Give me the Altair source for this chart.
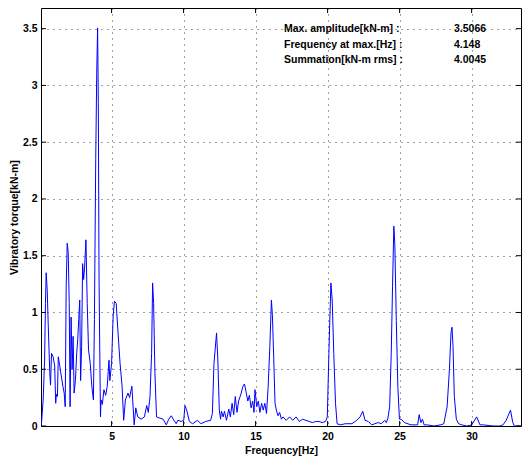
import altair as alt
import pandas as pd

# ---- data ----
freq = [0.12, 0.25, 0.35, 0.41, 0.46, 0.53, 0.60, 0.66, 0.71, 0.76, 0.83, 0.94, 1.05, 1.12, 1.17,
        1.24, 1.30, 1.40, 1.51, 1.62, 1.71, 1.78, 1.85, 1.92, 1.99, 2.06, 2.12, 2.19, 2.26, 2.33,
        2.40, 2.49, 2.58, 2.65, 2.72, 2.79, 2.85, 2.92, 2.99, 3.06, 3.13, 3.22, 3.31, 3.40, 3.52,
        3.63, 3.74, 3.81, 3.90, 3.97, 4.03, 4.08, 4.13, 4.18, 4.23, 4.27, 4.36, 4.47, 4.59, 4.70,
        4.82, 4.88, 5.00, 5.11, 5.20, 5.32, 5.45, 5.59, 5.73, 5.84, 5.96, 6.14, 6.25, 6.41, 6.57,
        6.68, 6.82, 7.05, 7.28, 7.44, 7.55, 7.67, 7.78, 7.85, 7.92, 8.01, 8.12, 8.35, 8.58, 8.80,
        8.97, 9.15, 9.33, 9.49, 9.60, 9.83, 10.01, 10.10, 10.24, 10.40, 10.63, 10.97, 11.20, 11.54,
        11.88, 12.00, 12.11, 12.29, 12.38, 12.48, 12.57, 12.63, 12.75, 12.84, 12.98, 13.14, 13.25,
        13.37, 13.48, 13.59, 13.71, 13.82, 13.98, 14.12, 14.23, 14.34, 14.46, 14.57, 14.69, 14.80,
        14.89, 14.96, 15.08, 15.19, 15.30, 15.42, 15.53, 15.64, 15.76, 15.87, 15.99, 16.10, 16.17,
        16.26, 16.35, 16.44, 16.56, 16.67, 16.79, 16.90, 17.13, 17.36, 17.58, 17.81, 18.04, 18.27,
        18.50, 18.72, 18.95, 19.18, 19.40, 19.64, 19.86, 19.98, 20.09, 20.23, 20.32, 20.43, 20.55,
        20.66, 20.89, 21.23, 21.69, 22.03, 22.26, 22.44, 22.60, 22.83, 23.06, 23.28, 23.51, 23.74,
        23.97, 24.08, 24.19, 24.31, 24.42, 24.51, 24.60, 24.67, 24.77, 24.88, 24.99, 25.11, 25.34,
        25.79, 26.25, 26.36, 26.48, 26.59, 26.70, 26.93, 27.39, 27.84, 28.07, 28.30, 28.46, 28.57,
        28.64, 28.71, 28.80, 28.94, 29.10, 29.32, 29.67, 30.01, 30.35, 30.58, 30.81, 31.49, 31.95,
        32.18, 32.40, 32.70, 32.86, 32.97, 33.40]
torque = [0.00, 0.23, 0.58, 1.08, 1.35, 1.20, 0.90, 0.66, 0.47, 0.36, 0.64, 0.61, 0.53, 0.20, 0.28,
          0.26, 0.61, 0.53, 0.44, 0.35, 0.29, 0.17, 1.23, 1.61, 1.53, 1.08, 0.17, 0.96, 0.50, 0.79,
          0.29, 0.40, 0.64, 0.76, 0.94, 1.11, 0.40, 0.70, 1.43, 1.29, 1.40, 1.64, 1.08, 0.67, 0.55,
          0.35, 0.23, 0.94, 2.35, 3.10, 3.5066, 2.85, 1.30, 0.68, 0.08, 0.23, 0.19, 0.32, 0.27, 0.35,
          0.58, 0.40, 0.55, 0.97, 1.10, 1.08, 0.82, 0.55, 0.35, 0.05, 0.23, 0.29, 0.25, 0.35, 0.01,
          0.16, 0.08, 0.06, 0.08, 0.18, 0.12, 0.26, 0.64, 1.26, 1.08, 0.47, 0.08, 0.07, 0.06, 0.01,
          0.06, 0.09, 0.05, 0.02, 0.05, 0.04, 0.05, 0.18, 0.13, 0.04, 0.02, 0.05, 0.02, 0.04,
          0.05, 0.11, 0.55, 0.82, 0.58, 0.14, 0.06, 0.13, 0.08, 0.13, 0.05, 0.15, 0.08,
          0.20, 0.10, 0.26, 0.12, 0.22, 0.28, 0.35, 0.37, 0.30, 0.22, 0.27, 0.16, 0.22,
          0.12, 0.32, 0.17, 0.22, 0.12, 0.20, 0.14, 0.20, 0.11, 0.34, 0.70, 1.11, 0.97,
          0.60, 0.20, 0.14, 0.09, 0.12, 0.06, 0.08, 0.05, 0.08, 0.05, 0.08, 0.04, 0.06,
          0.05, 0.04, 0.03, 0.04, 0.04, 0.03, 0.04, 0.08, 0.64, 1.26, 1.11, 0.64, 0.20,
          0.02, 0.01, 0.02, 0.02, 0.05, 0.08, 0.13, 0.05, 0.04, 0.01, 0.02, 0.03, 0.02,
          0.05, 0.03, 0.07, 0.17, 0.64, 1.23, 1.76, 1.60, 0.93, 0.34, 0.06, 0.06, 0.03,
          0.01, 0.01, 0.10, 0.03, 0.06, 0.01, 0.01, 0.00, 0.01, 0.02, 0.17, 0.50, 0.82,
          0.87, 0.70, 0.26, 0.06, 0.02, 0.01, 0.00, 0.01, 0.08, 0.01, 0.01, 0.00, 0.00,
          0.01, 0.05, 0.14, 0.03, 0.00, 0.00]

x_ticks = [5, 10, 15, 20, 25, 30]
y_ticks = [0, 0.5, 1, 1.5, 2, 2.5, 3, 3.5]
info_labels = ["Max. amplitude[kN-m] :", "Frequency at max.[Hz] :", "Summation[kN-m rms] :"]
info_values = ["3.5066", "4.148", "4.0045"]

W, H = 480, 418
FONT = "Liberation Sans"
TL = 5  # inward tick length

df = pd.DataFrame({"f": freq, "v": torque})
xs = alt.Scale(domain=[0.1, 33.43], nice=False, zero=False)
ys = alt.Scale(domain=[0, 3.682], nice=False)

grid_kw = dict(grid=True, gridColor="#000000", gridDash=[1, 5], gridOpacity=0.75, gridWidth=1,
               ticks=False, domain=False, labelFont=FONT, labelFontSize=10.5,
               labelFontWeight="bold", labelColor="#000000", titleFont=FONT,
               titleFontSize=10.5, titleFontWeight="bold", titleColor="#000000")

x_axis = alt.Axis(values=x_ticks, title="Frequency[Hz]", labelPadding=5,
                  titleBaseline="middle", titleY=24, **grid_kw)
y_axis = alt.Axis(values=y_ticks, format=".1~f", title="Vibratory torque[kN-m]",
                  labelPadding=4, titleBaseline="middle", titleX=-27, **grid_kw)


def X():
    return alt.X("f:Q", scale=xs, axis=x_axis)


def Y():
    return alt.Y("v:Q", scale=ys, axis=y_axis)


line = alt.Chart(df).mark_line(color="#0000ff", strokeWidth=1, clip=True).encode(x=X(), y=Y())

ydf = pd.DataFrame({"v": y_ticks})
xdf = pd.DataFrame({"f": x_ticks})
tick_style = dict(color="#000000", strokeWidth=1)
ytl = alt.Chart(ydf).mark_rule(**tick_style).encode(y=Y(), x=alt.value(0), x2=alt.value(TL))
ytr = alt.Chart(ydf).mark_rule(**tick_style).encode(y=Y(), x=alt.value(W - TL), x2=alt.value(W))
xtb = alt.Chart(xdf).mark_rule(**tick_style).encode(x=X(), y=alt.value(H - TL), y2=alt.value(H))
xtt = alt.Chart(xdf).mark_rule(**tick_style).encode(x=X(), y=alt.value(0), y2=alt.value(TL))

texts = []
row_y = [21, 36.5, 52]
for i in range(3):
    texts.append(alt.Chart(pd.DataFrame({"s": [info_labels[i]]})).mark_text(
        align="left", baseline="middle", font=FONT, fontSize=10.5, fontWeight="bold",
        color="#000000").encode(text="s:N", x=alt.value(243), y=alt.value(row_y[i])))
    texts.append(alt.Chart(pd.DataFrame({"s": [info_values[i]]})).mark_text(
        align="left", baseline="middle", font=FONT, fontSize=10.5, fontWeight="bold",
        color="#000000").encode(text="s:N", x=alt.value(413), y=alt.value(row_y[i])))

chart = alt.layer(line, ytl, ytr, xtb, xtt, *texts).properties(
    width=W, height=H,
    autosize=alt.AutoSizeParams(type="none"),
    padding={"left": 33, "top": 0, "right": 1, "bottom": 32},
    background="#ffffff",
).configure_view(stroke="#000000", strokeWidth=1)

chart.save("out.html", embed_options={"renderer": "svg", "actions": False})
